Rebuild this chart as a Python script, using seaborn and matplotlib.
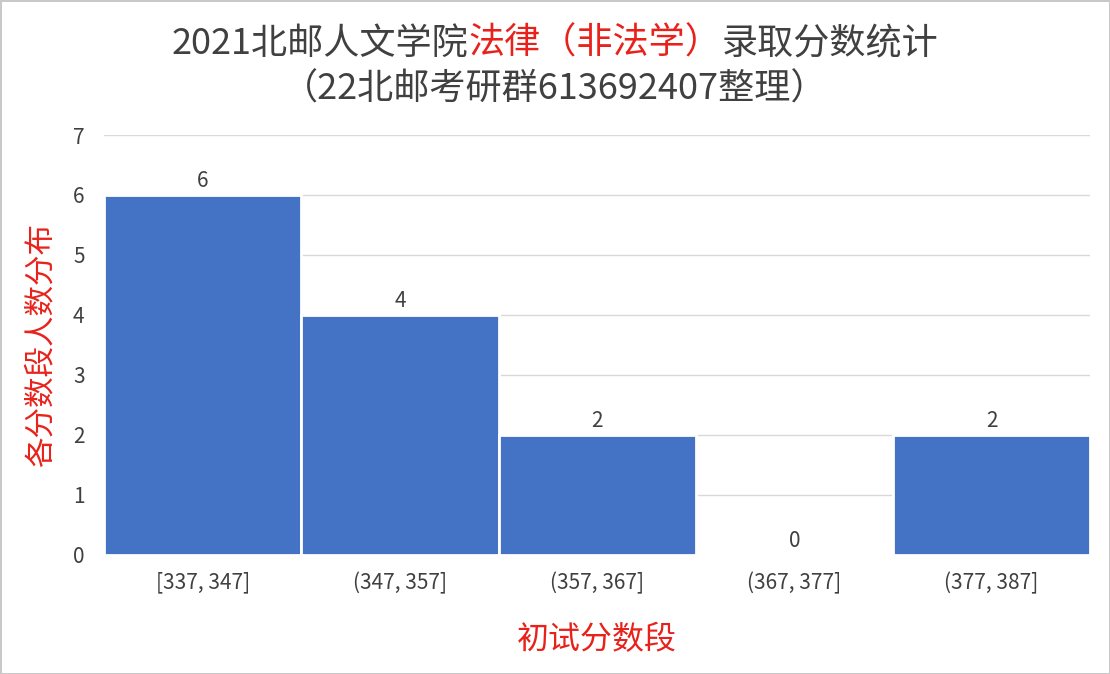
import pandas as pd
import seaborn as sns
from matplotlib import pyplot as plt

# data
score_bins = ['[337, 347]', '(347, 357]', '(357, 367]', '(367, 377]', '(377, 387]']
counts = [6, 4, 2, 0, 2]
y_ticks = [0, 1, 2, 3, 4, 5, 6, 7]

title_parts = [('2021北邮人文学院', '#404040'), ('法律（非法学）', '#e8221b'), ('录取分数统计', '#404040')]
subtitle = '（22北邮考研群613692407整理）'

sns.set_theme(style='white')
plt.rcParams['font.family'] = ['Noto Sans CJK SC', 'DejaVu Sans']

df = pd.DataFrame({'bin': score_bins, 'count': counts})

fig = plt.figure(figsize=(11.1, 6.74), dpi=100)
fig.patch.set_edgecolor('#c8c8c8')
fig.patch.set_linewidth(2)
ax = fig.add_axes([0.0937, 0.1766, 0.8885, 0.6231])

sns.barplot(data=df, x='bin', y='count', color='#4472c4', saturation=1,
            width=1.0, edgecolor='white', linewidth=2, ax=ax)

ax.set_ylim(0, 7)
ax.set_xlim(-0.5, 4.5)
ax.set_yticks(y_ticks)
ax.yaxis.grid(True, color='#d9d9d9', linewidth=1)
ax.set_axisbelow(True)
for s in ['top', 'right', 'left', 'bottom']:
    ax.spines[s].set_visible(False)
ax.tick_params(axis='both', length=0, labelsize=15, colors='#404040')
ax.tick_params(axis='y', pad=14)
ax.tick_params(axis='x', pad=12)

for c in ax.containers:
    ax.bar_label(c, fontsize=15, color='#404040', padding=2)

ax.set_xlabel('初试分数段', fontsize=23, color='#e8221b', labelpad=22)
ax.set_ylabel('各分数段人数分布', fontsize=22, color='#e8221b', labelpad=12)

# multi-coloured title, placed piece by piece
fig.canvas.draw()
renderer = fig.canvas.get_renderer()
texts = []
for s, col in title_parts:
    t = fig.text(0, 1 - 44 / 674, s, fontsize=26, color=col, va='center', ha='left')
    texts.append(t)
widths = [t.get_window_extent(renderer).width for t in texts]
x0 = (fig.bbox.width - sum(widths)) / 2
for t, w in zip(texts, widths):
    t.set_x(x0 / fig.bbox.width)
    x0 += w
fig.text(0.5, 1 - 90 / 674, subtitle, fontsize=26, color='#404040', va='center', ha='center')

fig.savefig('out.png', dpi=100)
